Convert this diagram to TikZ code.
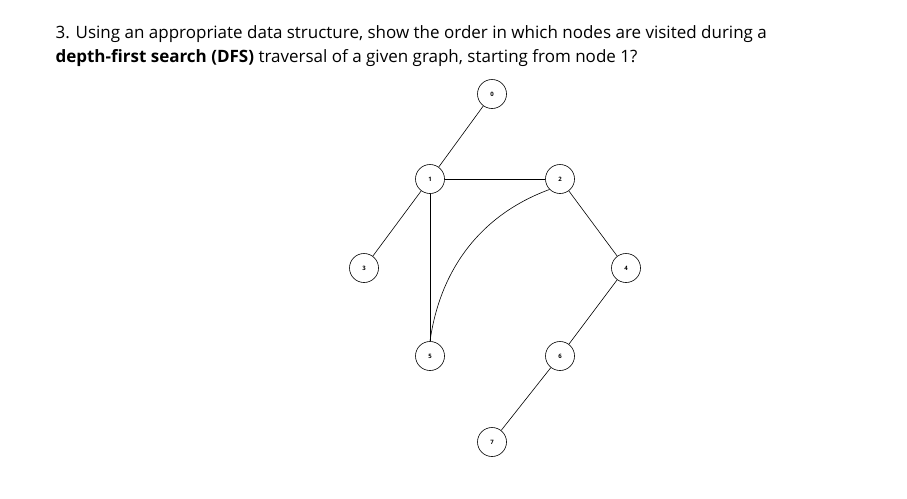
\documentclass[tikz,border=0pt]{standalone}
\usepackage{fontspec}
\setmainfont{Open Sans}
\begin{document}
\begin{tikzpicture}[x=1pt,y=-1pt,
  vtx/.style={circle,draw,line width=0.6pt,minimum size=29pt,inner sep=0pt,font=\fontsize{6}{7}\selectfont\bfseries},
  edge/.style={line width=0.6pt}]
\useasboundingbox (0,0) rectangle (907,498);
\node[anchor=base west,font=\fontsize{17}{20}\selectfont] (t1) at (52,38) {3. Using an appropriate data structure, show the order in which nodes are visited during a};
\node[anchor=base west,font=\fontsize{17}{20}\selectfont] (t2) at (52,62) {\textbf{depth-first search (DFS)} traversal of a given graph, starting from node 1?};
\node[vtx] (n0) at (492,94) {0};
\node[vtx] (n1) at (430,179) {1};
\node[vtx] (n2) at (560,179) {2};
\node[vtx] (n3) at (364,268) {3};
\node[vtx] (n4) at (626,268) {4};
\node[vtx] (n5) at (430,356) {5};
\node[vtx] (n6) at (560,356) {6};
\node[vtx] (n7) at (492,442) {7};
\draw[edge] (n0) -- (n1);
\draw[edge] (n1) -- (n2);
\draw[edge] (n1) -- (n3);
\draw[edge] (n1) -- (n5);
\draw[edge] (n2) -- (n4);
\draw[edge] (n4) -- (n6);
\draw[edge] (n6) -- (n7);
\draw[edge] (n5.north) .. controls (440,270) and (480,215) .. (n2.south west);
\end{tikzpicture}
\end{document}
